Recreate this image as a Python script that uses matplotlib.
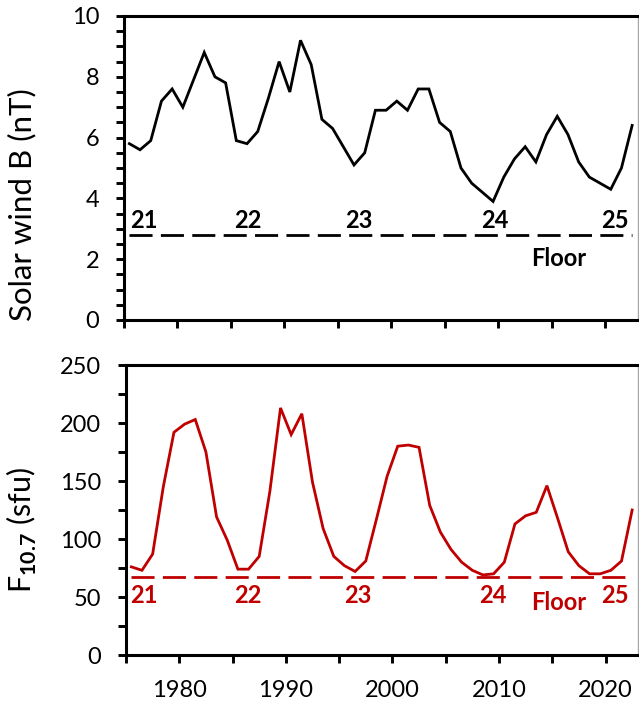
import numpy as np
import matplotlib
matplotlib.use("Agg")
import matplotlib.pyplot as plt

plt.rcParams['font.family'] = ['Lato', 'DejaVu Sans']
plt.rcParams['mathtext.fontset'] = 'custom'
plt.rcParams['mathtext.rm'] = 'Lato'
plt.rcParams['mathtext.bf'] = 'Lato:bold'

# yearly means, plotted at mid-year
years = np.arange(1975, 2023) + 0.5
bfield = [5.8, 5.6, 5.9, 7.2, 7.6, 7.0, 7.9, 8.8, 8.0, 7.8,
          5.9, 5.8, 6.2, 7.3, 8.5, 7.5, 9.2, 8.4, 6.6, 6.3,
          5.7, 5.1, 5.5, 6.9, 6.9, 7.2, 6.9, 7.6, 7.6, 6.5,
          6.2, 5.0, 4.5, 4.2, 3.9, 4.7, 5.3, 5.7, 5.2, 6.1,
          6.7, 6.1, 5.2, 4.7, 4.5, 4.3, 5.0, 6.4]
f107 = [76, 73, 87, 145, 192, 199, 203, 175, 119, 99,
        74, 74, 85, 141, 213, 190, 208, 149, 109, 85,
        77, 72, 81, 117, 154, 180, 181, 179, 129, 106,
        91, 80, 73, 69, 70, 80, 113, 120, 123, 146,
        118, 89, 77, 70, 70, 73, 81, 125]
b_floor = 2.8
f_floor = 67

cycles = ['21', '22', '23', '24', '25']
cyc_x_top = [1975.6, 1985.3, 1995.7, 2008.4, 2019.6]
cyc_x_bot = [1975.4, 1985.15, 1995.45, 2008.15, 2019.55]

red = '#C00000'
W, H = 639, 704
fig = plt.figure(figsize=(W / 100, H / 100), dpi=100)

def style(ax, ymax, ymajor, yminor, show_x):
    ax.set_xlim(1975, 2023)
    ax.set_ylim(0, ymax)
    ax.set_xticks(np.arange(1975, 2023, 5))
    ax.set_xticklabels([str(y) if y % 10 == 0 else '' for y in range(1975, 2023, 5)] if show_x else [])
    ax.set_yticks(np.arange(0, ymax + 0.01, yminor))
    ax.set_yticklabels([('%g' % v) if abs(v / ymajor - round(v / ymajor)) < 1e-6 else ''
                        for v in np.arange(0, ymax + 0.01, yminor)])
    ax.tick_params(direction='out', length=5.8, width=2.1, labelsize=17, pad=12)
    for s in ['left', 'bottom', 'top']:
        ax.spines[s].set_linewidth(2.2)
        ax.spines[s].set_color('black')
    ax.spines['right'].set_linewidth(1.0)
    ax.spines['right'].set_color('#a6a6a6')

# top panel: solar wind B
ax1 = fig.add_axes([124 / W, 1 - 320 / H, 513.5 / W, 304 / H])
ax1.plot(years, bfield, color='black', lw=2.0, solid_joinstyle='miter')
ax1.plot([years[0], years[-1]], [b_floor, b_floor], color='black', lw=2.0,
         dashes=(8.3, 3.0))
style(ax1, 10, 2, 0.5, False)
for lab, x in zip(cycles, cyc_x_top):
    ax1.text(x, 3.03, lab, fontsize=17, fontweight='bold', va='baseline', ha='left')
ax1.text(2013.1, 1.79, 'Floor', fontsize=17, fontweight='bold', va='baseline', ha='left')

# bottom panel: F10.7
ax2 = fig.add_axes([126 / W, 1 - 655 / H, 511.5 / W, 290 / H])
ax2.plot(years, f107, color=red, lw=2.0, solid_joinstyle='miter')
ax2.plot([years[0], years[-1]], [f_floor, f_floor], color=red, lw=2.0,
         dashes=(8.3, 3.0))
style(ax2, 250, 50, 25, True)
for lab, x in zip(cycles, cyc_x_bot):
    ax2.text(x, 45, lab, fontsize=17, fontweight='bold', color=red, va='baseline', ha='left')
ax2.text(2013.0, 38.8, 'Floor', fontsize=17, fontweight='bold', color=red, va='baseline', ha='left')

fig.text(22 / W, 1 - 205 / H, 'Solar wind B (nT)', rotation=90, fontsize=22.5,
         ha='center', va='center')
fig.text(22 / W, 1 - 530 / H, r'F$_{\mathbf{10.7}}$ (sfu)', rotation=90, fontsize=22,
         ha='center', va='center')

fig.savefig('out.png', dpi=100)
